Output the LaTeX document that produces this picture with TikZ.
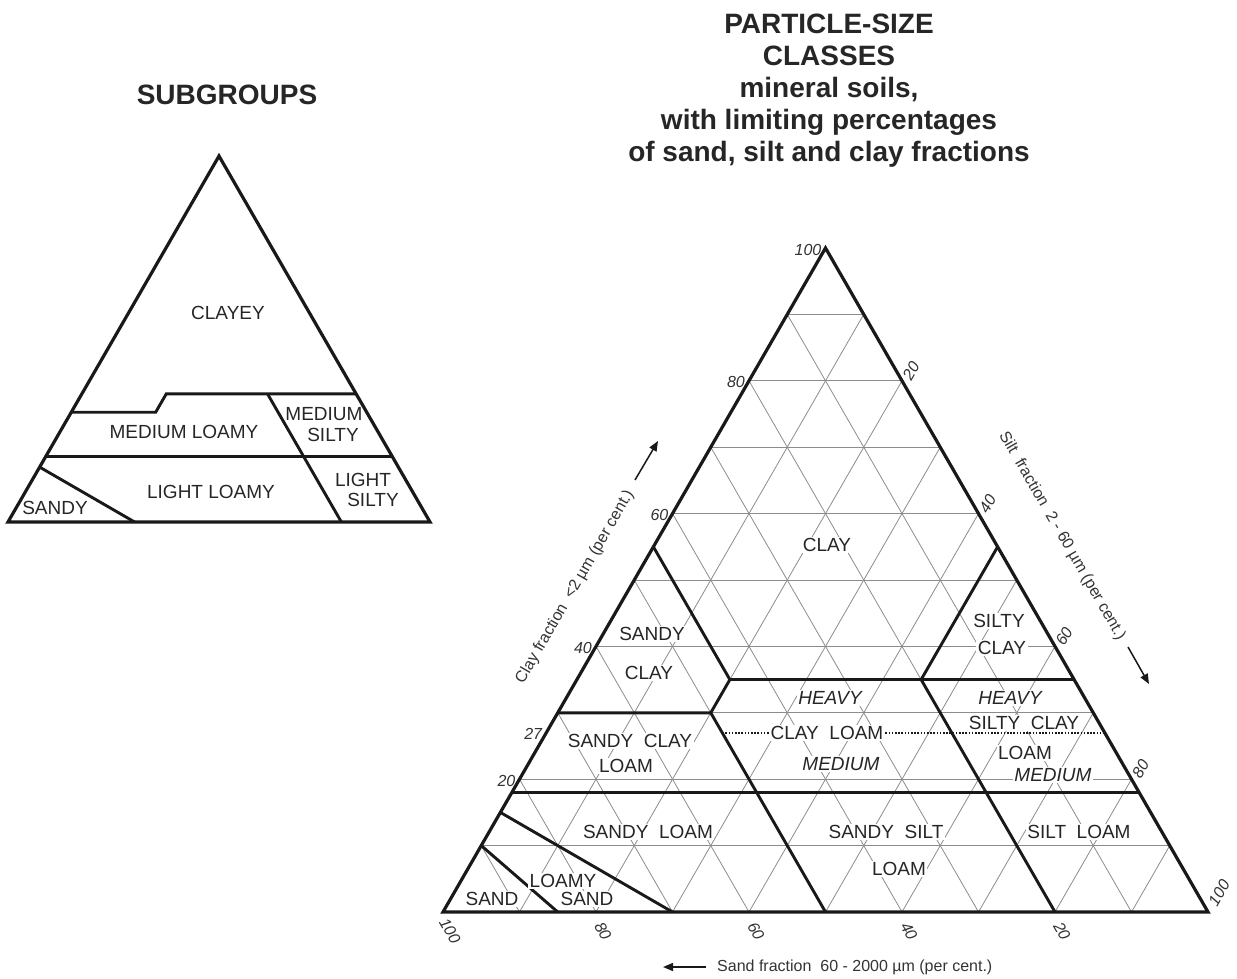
\documentclass[tikz,border=0pt]{standalone}
\usepackage{fontspec}
\setmainfont{Liberation Sans}
\usetikzlibrary{arrows.meta}

\begin{document}
\begin{tikzpicture}[x=1pt, y=-1pt,
    rim/.style={draw=black!90, line width=3.2pt, line join=miter},
    bound/.style={draw=black!90, line width=2.9pt, line join=miter},
    gridline/.style={draw=black!45, line width=0.8pt},
    split/.style={draw=black!90, line width=1.6pt, dash pattern=on 1.6pt off 1.6pt},
    zone/.style={text=black!85, inner sep=1.5pt, font=\fontsize{19}{22}\selectfont},
    cut/.style={zone, fill=white},
    grade/.style={cut, font=\fontsize{19}{22}\selectfont\itshape},
    ticknum/.style={text=black!80, inner sep=1pt, font=\fontsize{16}{18}\selectfont\itshape},
    axlabel/.style={text=black!80, inner sep=1pt, font=\fontsize{16}{18}\selectfont},
    arr/.style={draw=black!90, line width=1.5pt, -{Triangle[length=10pt, width=8pt]}},
    heading/.style={text=black!85, inner sep=0pt, font=\fontsize{28}{31.9}\selectfont\bfseries, align=center}]
  \useasboundingbox (0,0) rectangle (1237,979);

  % subgroups
  \coordinate (ssa) at (8,522);
  \coordinate (ssi) at (430,522);
  \coordinate (scl) at (219,156);
  \node[heading, anchor=base] (subtitle) at (227,105) {SUBGROUPS};
  \draw[rim] (ssa) -- (ssi) -- (scl) -- cycle;
  \draw[bound] (barycentric cs:ssa=.70,scl=.30) -- (barycentric cs:ssa=.50,ssi=.20,scl=.30)
    -- (barycentric cs:ssa=.45,ssi=.20,scl=.35) -- (barycentric cs:ssi=.65,scl=.35);
  \draw[bound] (barycentric cs:ssa=.21,ssi=.44,scl=.35) -- (barycentric cs:ssa=.21,ssi=.79);
  \draw[bound] (barycentric cs:ssa=.82,scl=.18) -- (barycentric cs:ssi=.82,scl=.18);
  \draw[bound] (barycentric cs:ssa=.85,scl=.15) -- (barycentric cs:ssa=.70,ssi=.30);
  \node[zone] (clayey) at (228,313) {CLAYEY};
  \node[zone] (medloamy) at (184,432) {MEDIUM LOAMY};
  \node[zone] (medsilty1) at (324,414) {MEDIUM};
  \node[zone] (medsilty2) at (333,435) {SILTY};
  \node[zone] (ltloamy) at (211,492) {LIGHT LOAMY};
  \node[zone] (ltsilty1) at (363,480) {LIGHT};
  \node[zone] (ltsilty2) at (373,500) {SILTY};
  \node[zone] (sandy) at (55,508) {SANDY};

  % particle-size classes
  \node[heading, anchor=north] (title) at (829,14)
    {PARTICLE-SIZE\\CLASSES\\mineral soils,\\with limiting percentages\\of sand, silt and clay fractions};
  \coordinate (sa) at (443,912);
  \coordinate (si) at (1208,912);
  \coordinate (cl) at (825.5,248);
  \foreach \i [evaluate=\i as \a using \i/10, evaluate=\i as \b using 1-\i/10] in {1,...,9}{
    \draw[gridline] (barycentric cs:sa=\b,cl=\a) -- (barycentric cs:si=\b,cl=\a);
    \draw[gridline] (barycentric cs:sa=\a,si=\b) -- (barycentric cs:sa=\a,cl=\b);
    \draw[gridline] (barycentric cs:si=\a,sa=\b) -- (barycentric cs:si=\a,cl=\b);
  }
  \draw[split] (barycentric cs:sa=.50,si=.23,cl=.27) -- (barycentric cs:si=.73,cl=.27);
  \draw[bound] (barycentric cs:sa=.45,cl=.55) -- (barycentric cs:sa=.45,si=.20,cl=.35)
    -- (barycentric cs:sa=.50,si=.20,cl=.30) -- (barycentric cs:sa=.70,cl=.30);
  \draw[bound] (barycentric cs:sa=.50,si=.20,cl=.30) -- (barycentric cs:sa=.50,si=.50);
  \draw[bound] (barycentric cs:sa=.45,si=.20,cl=.35) -- (barycentric cs:si=.65,cl=.35);
  \draw[bound] (barycentric cs:si=.45,cl=.55) -- (barycentric cs:sa=.20,si=.45,cl=.35)
    -- (barycentric cs:sa=.20,si=.80);
  \draw[bound] (barycentric cs:sa=.82,cl=.18) -- (barycentric cs:si=.82,cl=.18);
  \draw[bound] (barycentric cs:sa=.85,cl=.15) -- (barycentric cs:sa=.70,si=.30);
  \draw[bound] (barycentric cs:sa=.90,cl=.10) -- (barycentric cs:sa=.85,si=.15);
  \draw[rim] (sa) -- (si) -- (cl) -- cycle;

  % scale numbers
  \foreach \c [evaluate=\c as \a using \c/100, evaluate=\c as \b using 1-\c/100] in {100,80,60,40,27,20}
    \node[ticknum, anchor=east, xshift=-3pt, yshift=-1.5pt] at (barycentric cs:sa=\b,cl=\a) {\c};
  \foreach \s [evaluate=\s as \a using \s/100, evaluate=\s as \b using 1-\s/100] in {20,40,60,80}
    \node[ticknum, rotate=60] at ([shift={(9,-10)}]barycentric cs:si=\a,cl=\b) {\s};
  \node[ticknum, rotate=60] at ([shift={(11,-19)}]si) {100};
  \foreach \s [evaluate=\s as \a using \s/100, evaluate=\s as \b using 1-\s/100] in {100,80,60,40,20}
    \node[ticknum, rotate=-60] at ([shift={(7,19)}]barycentric cs:sa=\a,si=\b) {\s};

  % axis names
  \node[axlabel, rotate=60] (claytxt) at (575,587) {Clay fraction\ \ <2 µm (per cent.)};
  \node[axlabel, rotate=-60] (silttxt) at (1062,536) {Silt\ \ fraction\ \ 2 - 60 µm (per cent.)};
  \node[axlabel, anchor=west] (sandtxt) at (716,967) {Sand fraction\ \ 60 - 2000 µm (per cent.)};
  \coordinate (claytail) at (635,480);
  \coordinate (claytip) at (658,441);
  \coordinate (silttail) at (1128,647);
  \coordinate (silttip) at (1149,684);
  \coordinate (sandtip) at (663,967);
  \draw[arr] (claytail) -- (claytip);
  \draw[arr] (silttail) -- (silttip);
  \draw[arr, shorten <=10pt] (sandtxt.west) -- (sandtip);

  % classes
  \node[cut] (clay) at (827,545) {CLAY};
  \node[cut] (sc1) at (652,634) {SANDY};
  \node[cut] (sc2) at (649,673) {CLAY};
  \node[cut] (zc1) at (999,621) {SILTY};
  \node[cut] (zc2) at (1002,648) {CLAY};
  \node[grade] (clh) at (830,698) {HEAVY};
  \node[cut] (clm) at (827,733) {CLAY\ \ LOAM};
  \node[grade] (clmd) at (841,764) {MEDIUM};
  \node[grade] (zclh) at (1010,698) {HEAVY};
  \node[cut] (zcl1) at (1024,723) {SILTY\ \ CLAY};
  \node[cut] (zcl2) at (1025,753) {LOAM};
  \node[grade] (zclmd) at (1053,775) {MEDIUM};
  \node[cut] (scl1) at (630,741) {SANDY\ \ CLAY};
  \node[cut] (scl2) at (626,766) {LOAM};
  \node[cut] (sl) at (648,832) {SANDY\ \ LOAM};
  \node[cut] (ssl1) at (886,832) {SANDY\ \ SILT};
  \node[cut] (ssl2) at (899,869) {LOAM};
  \node[cut] (zl) at (1079,832) {SILT\ \ LOAM};
  \node[cut] (sand) at (492,899) {SAND};
  \node[cut] (ls1) at (563,881) {LOAMY};
  \node[cut] (ls2) at (587,899) {SAND};
\end{tikzpicture}
\end{document}
